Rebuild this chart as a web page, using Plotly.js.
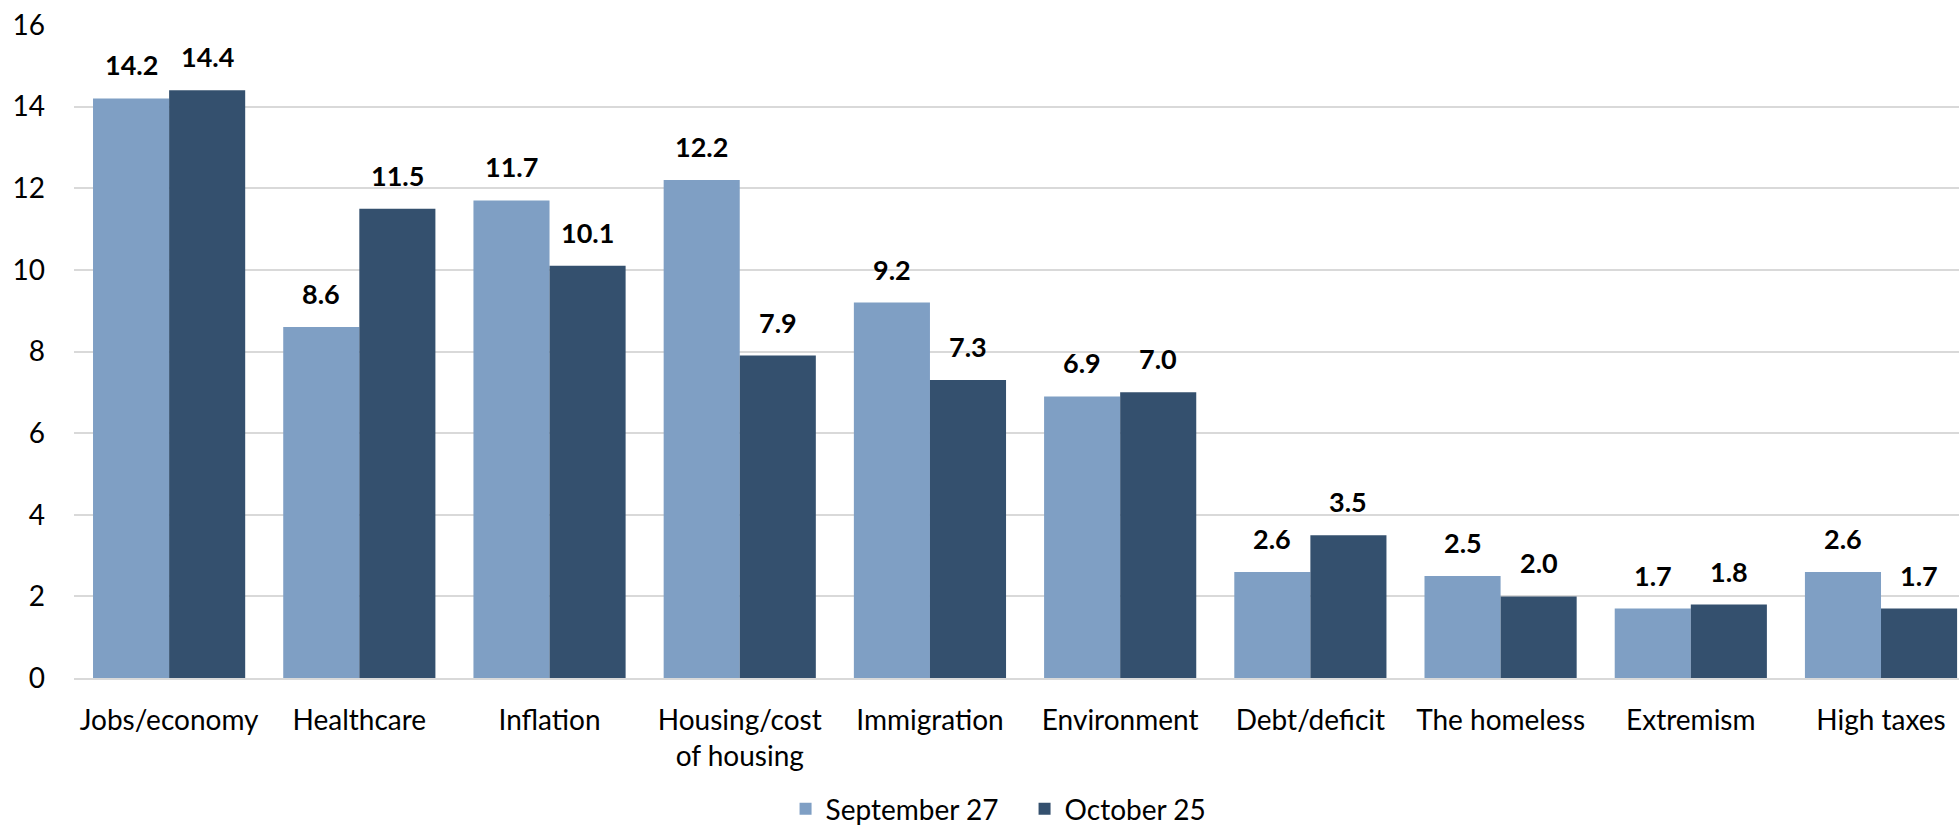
<!DOCTYPE html>
<html>
<head>
<meta charset="utf-8">
<script src="https://cdn.plot.ly/plotly-3.0.1.min.js"></script>
<style>html,body{margin:0;padding:0;background:#fff;}#chart{width:1959px;height:834px;}</style>
</head>
<body>
<div id="chart"></div>
<script>
const categories = ["Jobs/economy", "Healthcare", "Inflation", "Housing/cost<br>of housing", "Immigration", "Environment", "Debt/deficit", "The homeless", "Extremism", "High taxes"];
const seriesNames = ["September 27", "October 25"];
const september27 = [14.2, 8.6, 11.7, 12.2, 9.2, 6.9, 2.6, 2.5, 1.7, 2.6];
const october25 = [14.4, 11.5, 10.1, 7.9, 7.3, 7.0, 3.5, 2.0, 1.8, 1.7];
const yTicks = [0, 2, 4, 6, 8, 10, 12, 14, 16];

const colors = ["#7f9fc4", "#34506e"];
const FONT = "Lato, 'Liberation Sans', sans-serif";

const traces = [september27, october25].map((vals, k) => ({
  type: "bar",
  name: seriesNames[k],
  x: categories,
  y: vals,
  marker: {color: colors[k], line: {width: 0}},
  hoverinfo: "skip"
}));

const annotations = [];
[september27, october25].forEach((vals, k) => {
  vals.forEach((v, i) => {
    annotations.push({
      x: i + (k === 0 ? -0.2 : 0.2),
      y: v,
      xref: "x", yref: "y",
      text: "<b>" + v.toFixed(1) + "</b>",
      showarrow: false,
      yanchor: "bottom",
      yshift: 15,
      font: {family: FONT, size: 27, color: "#000"}
    });
  });
});

const layout = {
  width: 1959, height: 834,
  margin: {l: 74, r: 0, t: 25, b: 156},
  paper_bgcolor: "#fff", plot_bgcolor: "#fff",
  barmode: "group",
  bargap: 0.2,
  bargroupgap: 0,
  font: {family: FONT, size: 28, color: "#000"},
  xaxis: {
    type: "category",
    range: [-0.5, 9.41],
    automargin: false,
    showgrid: false,
    showline: true,
    linecolor: "#d9d9d9",
    linewidth: 2,
    ticks: "",
    ticklabelstandoff: 16,
    tickfont: {family: FONT, size: 28, color: "#000"}
  },
  yaxis: {
    range: [0, 16],
    automargin: false,
    tickvals: yTicks,
    ticktext: yTicks.map(String),
    showgrid: true,
    gridcolor: "#d9d9d9",
    gridwidth: 2,
    zeroline: false,
    showline: false,
    ticks: "",
    ticklabelstandoff: 28,
    tickfont: {family: FONT, size: 28, color: "#000"}
  },
  legend: {
    orientation: "h",
    xref: "container", yref: "container",
    x: 0.401, xanchor: "left",
    y: -0.03, yanchor: "bottom",
    font: {family: FONT, size: 28, color: "#000"},
    itemwidth: 30,
    entrywidth: 194,
    entrywidthmode: "pixels",
    traceorder: "normal"
  },
  annotations: annotations,
  showlegend: true
};

Plotly.newPlot("chart", traces, layout, {displayModeBar: false, staticPlot: true});
</script>
</body>
</html>
